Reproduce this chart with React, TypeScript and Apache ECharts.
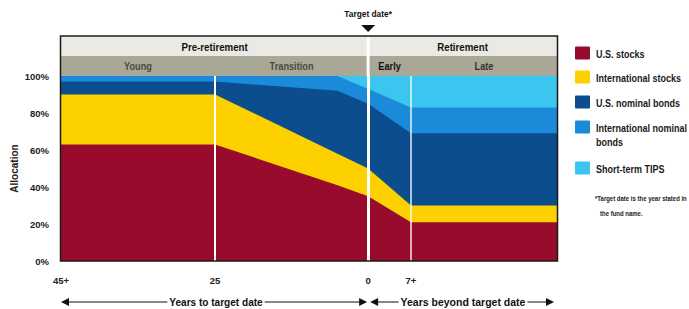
import React, { useEffect, useRef } from "react";
import * as echarts from "echarts";

// Years to target date (negative = years after target date)
const years = [45, 25, 5, 0, -7];
const lateEndYear = -30;
const usStocks = [63, 63, 41, 35, 21];
const intlStocks = [27, 27, 17, 15, 9];
const usBonds = [7, 7, 34, 35, 39];
const intlBonds = [3, 3, 8, 8, 14];
const tips = [0, 0, 0, 7, 17];

const seriesNames = [
  "U.S. stocks",
  "International stocks",
  "U.S. nominal bonds",
  "International nominal bonds",
  "Short-term TIPS",
];
const legendLabels = [
  "U.S. stocks",
  "International stocks",
  "U.S. nominal bonds",
  "International nominal\nbonds",
  "Short-term TIPS",
];
const seriesColors = ["#990b2d", "#fdd000", "#0c4d8e", "#1b8bd9", "#3bc6ef"];
const xTickYears = [45, 25, 0, -7];
const xTickLabels = ["45+", "25", "0", "7+"];
const phaseLabels = ["Pre-retirement", "Retirement"];
const stageLabels = ["Young", "Transition", "Early", "Late"];

const FONT = "'Liberation Sans', Arial, sans-serif";

// layout
const L = 61;
const TOP = 76;
const BOTTOM = 261;
const H = BOTTOM - TOP;
const X25 = 215;
const X7 = 411;
const R = 557;
const X0 = X25 + ((X7 - X25) * 25) / 32;
const HEAD_TOP = 37;
const HEAD_MID = 56;
const LEG_X = 575;
const LEG_Y = [53, 77, 102, 127, 168];

export default function App() {
  const ref = useRef<HTMLDivElement>(null);
  useEffect(() => {
    if (!ref.current) return;
    const chart = echarts.init(ref.current, null, { renderer: "svg" });
    const all = [usStocks, intlStocks, usBonds, intlBonds, tips];
    // cumulative tops of each band (bottom band first)
    const cum = all.map((_, s) =>
      years.map((__, i) => all.slice(0, s + 1).reduce((a, arr) => a + arr[i], 0))
    );
    const ranges = [
      [0, 1],
      [1, 2, 3, 4],
    ];
    const series: any[] = [];
    const mk = (s: number, g: number, data: number[][]) => ({
      type: "line",
      name: seriesNames[s],
      xAxisIndex: g,
      yAxisIndex: g,
      symbol: "none",
      lineStyle: { width: 0 },
      areaStyle: { color: seriesColors[s], opacity: 1, origin: "start" },
      itemStyle: { color: seriesColors[s] },
      data,
    });
    ranges.forEach((idx, g) => {
      for (let s = all.length - 1; s >= 0; s--) {
        series.push(mk(s, g, idx.map((i) => [years[i], cum[s][i]])));
      }
    });
    for (let s = all.length - 1; s >= 0; s--) {
      const last = cum[s][years.length - 1];
      series.push(
        mk(s, 2, [
          [years[years.length - 1], last],
          [lateEndYear, last],
        ])
      );
    }
    // white divider lines
    series.push({
      type: "line",
      xAxisIndex: 1,
      yAxisIndex: 1,
      data: [],
      silent: true,
      markLine: {
        silent: true,
        symbol: "none",
        label: { show: false },
        z: 10,
        data: [
          { xAxis: 25, lineStyle: { color: "#fff", width: 2, type: "solid" } },
          { xAxis: 0, lineStyle: { color: "#fff", width: 3, type: "solid" } },
          { xAxis: -7, lineStyle: { color: "#fff", width: 1.5, type: "solid", opacity: 0.9 } },
        ],
      },
    });

    const labelFmt = (v: number) => {
      const i = xTickYears.indexOf(v);
      return i >= 0 ? xTickLabels[i] : "";
    };
    const axisLabelBase = {
      fontFamily: FONT,
      fontWeight: "bold",
      fontSize: 9.5,
      color: "#222",
      margin: 14,
    };
    const hiddenY = { type: "value", min: 0, max: 100, show: false };

    const txt = (
      x: number,
      y: number,
      text: string,
      size: number,
      sx: number,
      color = "#111",
      align = "center",
      extra: any = {}
    ) => ({
      type: "text",
      x,
      y,
      scaleX: sx,
      z: extra.z ?? 40,
      style: {
        text,
        fill: color,
        font: `bold ${size}px ${FONT}`,
        textAlign: align,
        textVerticalAlign: "middle",
        ...(extra.style || {}),
      },
    });
    const tri = (pts: number[][]) => ({
      type: "polygon",
      shape: { points: pts },
      style: { fill: "#111" },
    });

    const legendGraphics: any[] = [];
    seriesNames.forEach((_, s) => {
      legendGraphics.push({
        type: "rect",
        shape: { x: LEG_X, y: LEG_Y[s] - 6.5, width: 15, height: 13, r: 1 },
        style: { fill: seriesColors[s] },
      });
      legendGraphics.push(
        txt(596, LEG_Y[s], legendLabels[s], 10, 0.9, "#1a1a1a", "left", {
          style: { lineHeight: 14, textVerticalAlign: "top", y: -6 },
        })
      );
    });

    chart.setOption({
      animation: false,
      grid: [
        { left: L, top: TOP, width: X25 - L, height: H },
        { left: X25, top: TOP, width: X7 - X25, height: H },
        { left: X7, top: TOP, width: R - X7, height: H },
      ],
      xAxis: [
        {
          type: "value",
          gridIndex: 0,
          min: 25,
          max: 45,
          inverse: true,
          axisLine: { show: false },
          axisTick: { show: false },
          splitLine: { show: false },
          axisLabel: { ...axisLabelBase, customValues: [45], formatter: labelFmt },
        },
        {
          type: "value",
          gridIndex: 1,
          min: -7,
          max: 25,
          inverse: true,
          axisLine: { show: false },
          axisTick: { show: false },
          splitLine: { show: false },
          axisLabel: { ...axisLabelBase, customValues: [25, 0, -7], formatter: labelFmt },
        },
        {
          type: "value",
          gridIndex: 2,
          min: lateEndYear,
          max: -7,
          inverse: true,
          show: false,
        },
      ],
      yAxis: [
        {
          type: "value",
          gridIndex: 0,
          min: 0,
          max: 100,
          interval: 20,
          axisLine: { show: false },
          axisTick: { show: false },
          splitLine: { show: false },
          axisLabel: {
            formatter: "{value}%",
            fontFamily: FONT,
            fontWeight: "bold",
            fontSize: 9.5,
            color: "#222",
            margin: 12,
          },
          name: "Allocation",
          nameLocation: "middle",
          nameGap: 42,
          nameRotate: 90,
          nameTextStyle: { fontFamily: FONT, fontWeight: "bold", fontSize: 10, color: "#222" },
        },
        { ...hiddenY, gridIndex: 1 },
        { ...hiddenY, gridIndex: 2 },
      ],
      graphic: [
        // header bands
        {
          type: "rect",
          shape: { x: L, y: HEAD_TOP, width: R - L, height: HEAD_MID - HEAD_TOP },
          style: { fill: "#ebe9e4" },
        },
        {
          type: "rect",
          shape: { x: L, y: HEAD_MID, width: R - L, height: TOP - HEAD_MID },
          style: { fill: "#a9a796" },
        },
        {
          type: "line",
          z: 20,
          shape: { x1: X0, y1: HEAD_TOP, x2: X0, y2: TOP },
          style: { stroke: "#fff", lineWidth: 3 },
        },
        // frame
        {
          type: "rect",
          z: 30,
          shape: { x: L - 0.5, y: HEAD_TOP - 1, width: R - L + 1, height: BOTTOM - HEAD_TOP + 1 },
          style: { fill: "none", stroke: "#1a1a1a", lineWidth: 1.5 },
        },
        txt((L + X0) / 2, 47, phaseLabels[0], 10, 0.97),
        txt((X0 + R) / 2, 47, phaseLabels[1], 10, 0.97),
        txt((L + X25) / 2, 66, stageLabels[0], 10, 0.92, "#4b4a3e"),
        txt((X25 + X0) / 2, 66, stageLabels[1], 10, 0.92, "#4b4a3e"),
        txt((X0 + X7) / 2, 66, stageLabels[2], 10, 0.92, "#111"),
        txt((X7 + R) / 2, 66, stageLabels[3], 10, 0.92, "#333"),
        // target date marker
        txt(X0, 14, "Target date*", 9.5, 0.88),
        tri([
          [X0 - 7, 25],
          [X0 + 7, 25],
          [X0, 32],
        ]),
        // bottom arrows
        {
          type: "line",
          shape: { x1: L + 4, y1: 302, x2: X0 - 4, y2: 302 },
          style: { stroke: "#111", lineWidth: 1.2 },
        },
        {
          type: "line",
          shape: { x1: X0 + 5, y1: 302, x2: R - 6, y2: 302 },
          style: { stroke: "#111", lineWidth: 1.2 },
        },
        tri([
          [L, 302],
          [L + 8, 298],
          [L + 8, 306],
        ]),
        tri([
          [X0 - 1, 302],
          [X0 - 9, 298],
          [X0 - 9, 306],
        ]),
        tri([
          [X0 + 2, 302],
          [X0 + 10, 298],
          [X0 + 10, 306],
        ]),
        tri([
          [R - 3, 302],
          [R - 11, 298],
          [R - 11, 306],
        ]),
        txt(216, 302, "Years to target date", 10.5, 0.96, "#111", "center", {
          style: { backgroundColor: "#fff", padding: [0, 2] },
        }),
        txt(463, 302, "Years beyond target date", 10.5, 1.0, "#111", "center", {
          style: { backgroundColor: "#fff", padding: [0, 2] },
        }),
        // footnote
        txt(595, 198, "*Target date is the year stated in", 7.5, 0.8, "#222", "left"),
        txt(600, 213, "the fund name.", 7.5, 0.8, "#222", "left"),
        ...legendGraphics,
      ],
      series,
    });
    return () => chart.dispose();
  }, []);
  return (
    <div
      ref={ref}
      style={{ position: "fixed", left: 0, top: 0, width: 689, height: 309, background: "#fff" }}
    />
  );
}
